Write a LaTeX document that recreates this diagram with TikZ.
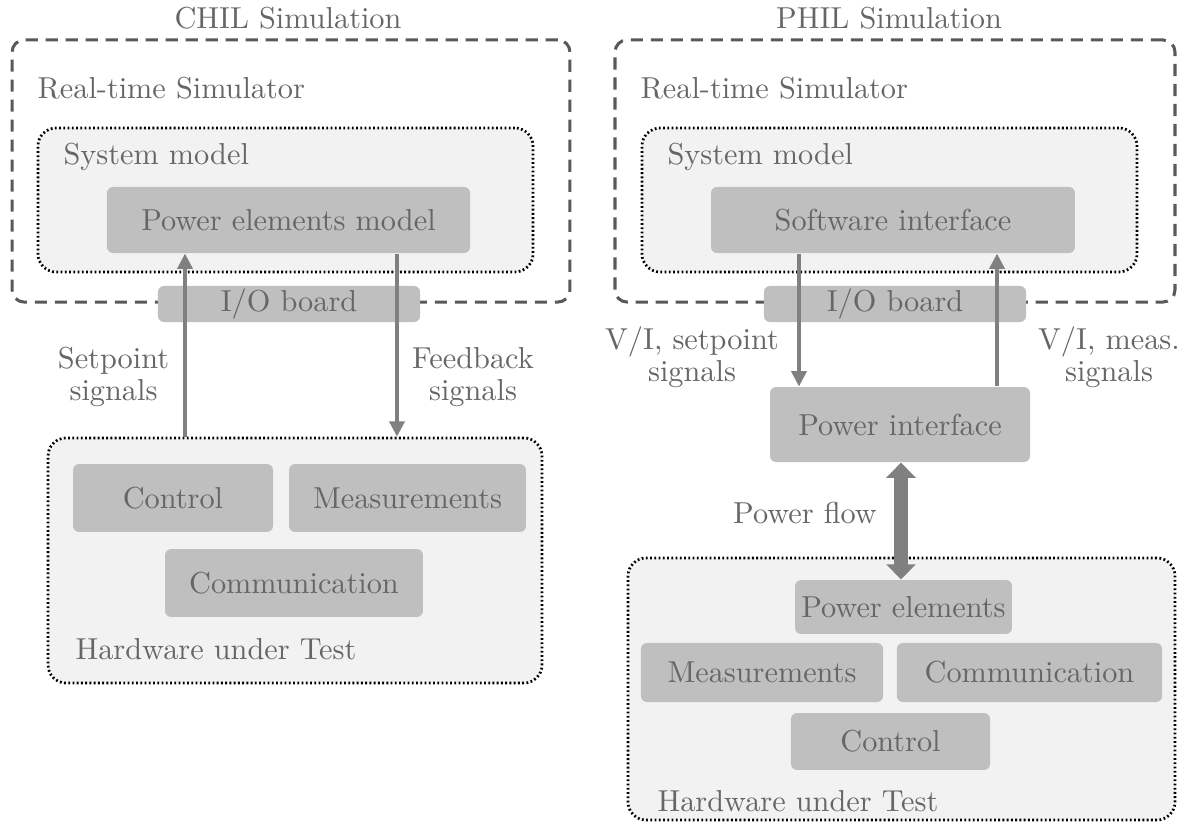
\documentclass[tikz,border=0pt]{standalone}
\usepackage{tikz}
\usetikzlibrary{arrows.meta}

\begin{document}
\begin{tikzpicture}[x=0.33pt, y=-0.33pt, font=\normalsize,
	every node/.style={text=black!60},
	simbox/.style={draw=black!65, dash pattern=on 4pt off 2.6pt, line width=1pt, rounded corners=4pt, inner sep=0pt},
	grpbox/.style={draw=black, dash pattern=on 0.6pt off 0.8pt, line width=0.9pt, fill=black!5, rounded corners=6pt, inner sep=0pt},
	elem/.style={fill=black!25, rounded corners=2pt, inner sep=0pt},
	lbl/.style={anchor=west, inner sep=0pt},
	sig/.style={draw=black!50, line width=1pt, -{Triangle[width=5pt,length=5pt]}},
	sigtxt/.style={align=center, font=\fontsize{10pt}{10.5pt}\selectfont},
	pflow/.style={draw=black!50, line width=4.3pt, {Triangle[width=9.5pt,length=5pt]}-{Triangle[width=9.5pt,length=5pt]}}]
	\useasboundingbox (0,0) rectangle (1187,836);
	% CHIL side
	\node (chil) at (288,18) {CHIL Simulation};
	\node[simbox, minimum width=184.1pt, minimum height=86.5pt] (rtsL) at (291,171) {};
	\node[lbl] (rtsLtxt) at (37,88) {Real-time Simulator};
	\node[grpbox, minimum width=163.4pt, minimum height=47.5pt] (sysL) at (285.5,200) {};
	\node[lbl] (sysLtxt) at (63,157) {System model};
	\node[elem, minimum width=119.8pt, minimum height=21.8pt] (pemL) at (288.5,220) {Power elements model};
	\node[elem, minimum width=86.5pt, minimum height=11.9pt] (ioL) at (289,304) {I/O board};
	\node[grpbox, minimum width=163pt, minimum height=80.9pt] (hutL) at (295,560.5) {};
	\node[elem, minimum width=66pt, minimum height=22.4pt] (ctrlL) at (173,498) {Control};
	\node[elem, minimum width=78.2pt, minimum height=22.4pt] (measL) at (407.5,498) {Measurements};
	\node[elem, minimum width=85.1pt, minimum height=22.4pt] (commL) at (294,583) {Communication};
	\node[lbl] (hutLtxt) at (75,649) {Hardware under Test};
	\coordinate (upL) at (185,0);
	\coordinate (dnL) at (397,0);
	\draw[sig] (hutL.north -| upL) -- (pemL.south -| upL);
	\draw[sig] (pemL.south -| dnL) -- (hutL.north -| dnL);
	\node[sigtxt] (spL) at (113.5,377) {Setpoint\\signals};
	\node[sigtxt] (fbL) at (473,377) {Feedback\\signals};
	% PHIL side
	\node (phil) at (889,18) {PHIL Simulation};
	\node[simbox, minimum width=184.8pt, minimum height=86.5pt] (rtsR) at (895,171) {};
	\node[lbl] (rtsRtxt) at (640,88) {Real-time Simulator};
	\node[grpbox, minimum width=163.4pt, minimum height=47.5pt] (sysR) at (889.5,200) {};
	\node[lbl] (sysRtxt) at (667,157) {System model};
	\node[elem, minimum width=120.1pt, minimum height=21.8pt] (swR) at (893,220) {Software interface};
	\node[elem, minimum width=86.5pt, minimum height=11.9pt] (ioR) at (895,304) {I/O board};
	\node[elem, minimum width=85.8pt, minimum height=24.75pt] (piR) at (900,424.5) {Power interface};
	\node[grpbox, minimum width=180.5pt, minimum height=86.5pt] (hutR) at (901.5,689) {};
	\node[elem, minimum width=71.6pt, minimum height=17.8pt] (pelR) at (903.5,607) {Power elements};
	\node[elem, minimum width=79.9pt, minimum height=19.5pt] (measR) at (762,672.5) {Measurements};
	\node[elem, minimum width=87.5pt, minimum height=19.5pt] (commR) at (1029.5,672.5) {Communication};
	\node[elem, minimum width=65.7pt, minimum height=18.8pt] (ctrlR) at (890.5,741.5) {Control};
	\node[lbl] (hutRtxt) at (657,801) {Hardware under Test};
	\coordinate (dnR) at (799,0);
	\coordinate (upR) at (997,0);
	\coordinate (pf) at (901,0);
	\draw[sig] (swR.south -| dnR) -- (piR.north -| dnR);
	\draw[sig] (piR.north -| upR) -- (swR.south -| upR);
	\draw[pflow] (piR.south -| pf) -- (pelR.north -| pf);
	\node[sigtxt] (spR) at (692,357) {V/I, setpoint\\signals};
	\node[sigtxt] (msR) at (1109,357) {V/I, meas.\\signals};
	\node (pfR) at (805,513) {Power flow};
\end{tikzpicture}
\end{document}
